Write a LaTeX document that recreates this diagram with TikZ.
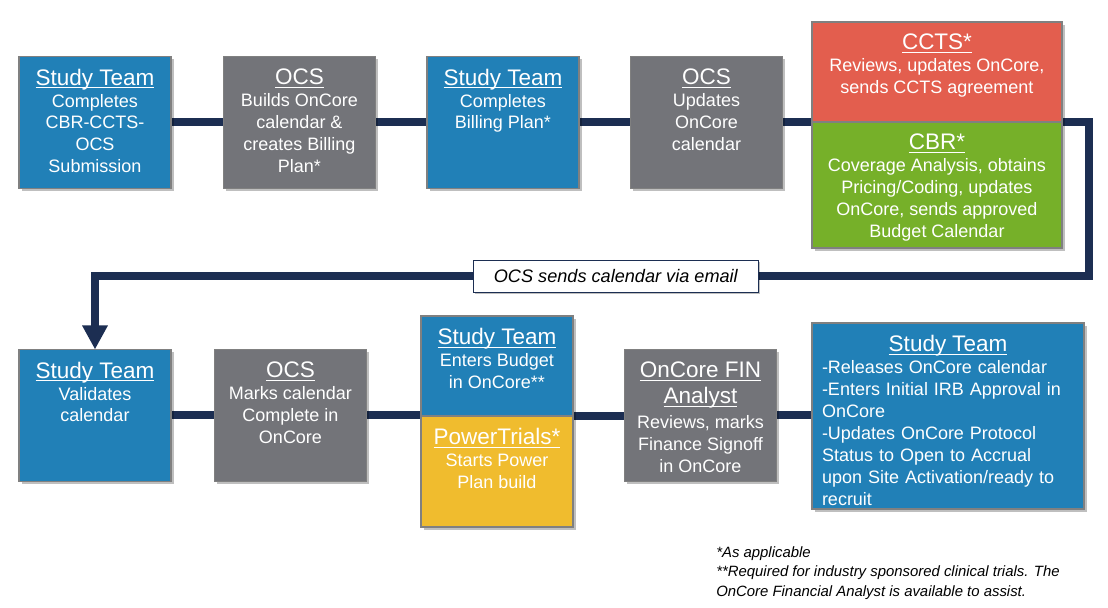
\documentclass[tikz,border=0pt]{standalone}
\usepackage{fontspec}
\setmainfont{Liberation Sans}
\usetikzlibrary{positioning,arrows.meta,shadows,backgrounds}
\definecolor{teamblue}{HTML}{2180B7}
\definecolor{ocsgray}{HTML}{737479}
\definecolor{cctsred}{HTML}{E35E4E}
\definecolor{cbrgreen}{HTML}{76B029}
\definecolor{ptyellow}{HTML}{F0BC2E}
\definecolor{flownavy}{HTML}{1C2E52}
\definecolor{edgegray}{HTML}{808080}
\newcommand{\boxhead}[1]{{\fontsize{16}{19}\selectfont
  \setbox0\hbox{#1}\rlap{\rule[-2.3pt]{\wd0}{0.75pt}}\box0}}
\setlength{\parindent}{0pt}
\tikzset{
  card/.style  = {draw=edgegray, line width=1.2pt, minimum width=3.8cm,
                  minimum height=3.3cm, inner sep=0pt, outer sep=0pt,
                  drop shadow={shadow xshift=1.8pt, shadow yshift=-1.8pt,
                               fill=black, opacity=0.25}},
  team/.style  = {card, fill=teamblue},
  ocs/.style   = {card, fill=ocsgray},
  txt/.style   = {anchor=north, align=center, text=white, inner sep=0pt,
                  yshift=-0.3cm, font=\fontsize{12.8}{15.6}\selectfont},
  flow/.style  = {draw=flownavy, line width=0.2cm, line join=miter},
  note/.style  = {draw=flownavy, line width=0.7pt, fill=white,
                  minimum width=7.125cm, minimum height=0.8cm, inner sep=0pt,
                  font=\fontsize{12.9}{15}\selectfont\itshape,
                  drop shadow={shadow xshift=1.5pt, shadow yshift=-1.5pt,
                               fill=black, opacity=0.25}},
  foot/.style  = {anchor=north west, align=left, inner sep=0pt,
                  font=\fontsize{10.6}{14}\selectfont\itshape},
}

\begin{document}
\begin{tikzpicture}
\useasboundingbox (0,0) rectangle (27.7,15.175);

% --- first row ---
\node[team] (st1) at (2.375,12.1125) {};
\node[txt] (st1t) at (st1.north)
     {\boxhead{Study Team}\\Completes\\CBR-CCTS-\\OCS\\Submission};

\node[ocs] (ocs1) at (7.4875,12.1125) {};
\node[txt] (ocs1t) at (ocs1.north)
     {\boxhead{OCS}\\Builds OnCore\\calendar \&\\creates Billing\\Plan*};

\node[team] (st2) at (12.575,12.1125) {};
\node[txt] (st2t) at (st2.north)
     {\boxhead{Study Team}\\Completes\\Billing Plan*};

\node[ocs] (ocs2) at (17.6625,12.1125) {};
\node[txt] (ocs2t) at (ocs2.north)
     {\boxhead{OCS}\\Updates\\OnCore\\calendar};

\node[card, fill=cctsred, minimum width=6.25cm, minimum height=2.5cm]
     (ccts) at (23.425,13.375) {};
\node[txt] (cctst) at (ccts.north)
     {\boxhead{CCTS*}\\Reviews, updates OnCore,\\sends CCTS agreement};

\node[card, fill=cbrgreen, minimum width=6.25cm, minimum height=3.15cm,
      below=0pt of ccts] (cbr) {};
\node[txt] (cbrt) at (cbr.north)
     {\boxhead{CBR*}\\Coverage Analysis, obtains\\Pricing/Coding, updates\\
      OnCore, sends approved\\Budget Calendar};

% --- second row ---
\node[team] (st3) at (2.375,4.7875) {};
\node[txt] (st3t) at (st3.north)
     {\boxhead{Study Team}\\Validates\\calendar};

\node[ocs] (ocs3) at (7.2625,4.7875) {};
\node[txt] (ocs3t) at (ocs3.north)
     {\boxhead{OCS}\\Marks calendar\\Complete in\\OnCore};

\node[team, minimum height=2.5cm] (st4) at (12.425,6.025) {};
\node[txt] (st4t) at (st4.north)
     {\boxhead{Study Team}\\Enters Budget\\in OnCore**};

\node[card, fill=ptyellow, minimum height=2.775cm, below=0pt of st4] (pt) {};
\node[txt] (ptt) at (pt.north)
     {\boxhead{PowerTrials*}\\Starts Power\\Plan build};

\node[ocs] (fin) at (17.5125,4.7875) {};
\node[txt] (fint) at (fin.north)
     {\boxhead{OnCore FIN}\\[3pt]\boxhead{Analyst}\\[2pt]Reviews, marks\\
      Finance Signoff\\in OnCore};

\node[team, minimum width=6.8cm, minimum height=4.65cm] (st5) at (23.7,4.775) {};
\node[txt, text width=6.3cm, align=left] (st5t) at (st5.north)
     {{\centering\boxhead{Study Team}\par}
      -Releases OnCore calendar\\-Enters Initial IRB Approval in\\OnCore\\
      -Updates OnCore Protocol\\Status to Open to Accrual\\
      upon Site Activation/ready to\\recruit};

% footnotes
\node[foot] (fn) at (17.9,1.525)
     {*As applicable\\**Required for industry sponsored clinical trials. The\\
      OnCore Financial Analyst is available to assist.};

% --- connectors ---
\coordinate (loopR) at (27.225,8.275);
\begin{scope}[on background layer]
\draw[flow] (st1) -- (ocs1);
\draw[flow] (ocs1) -- (st2);
\draw[flow] (st2) -- (ocs2);
\draw[flow] (ocs2.east) -- (ocs2.east -| ccts.west);
\draw[flow, -{Triangle[width=0.6cm, length=0.6cm]}] (ccts.south east) -| (loopR)
     -| node[note, pos=0.238] (mail) {OCS sends calendar via email} (st3.north);
\draw[flow] (st3) -- (ocs3);
\draw[flow] (ocs3.east) -- (ocs3.east -| st4.west);
\draw[flow] (st4.south east) -- (st4.south east -| fin.west);
\draw[flow] (fin.east) -- (fin.east -| st5.west);
\end{scope}
\end{tikzpicture}
\end{document}
